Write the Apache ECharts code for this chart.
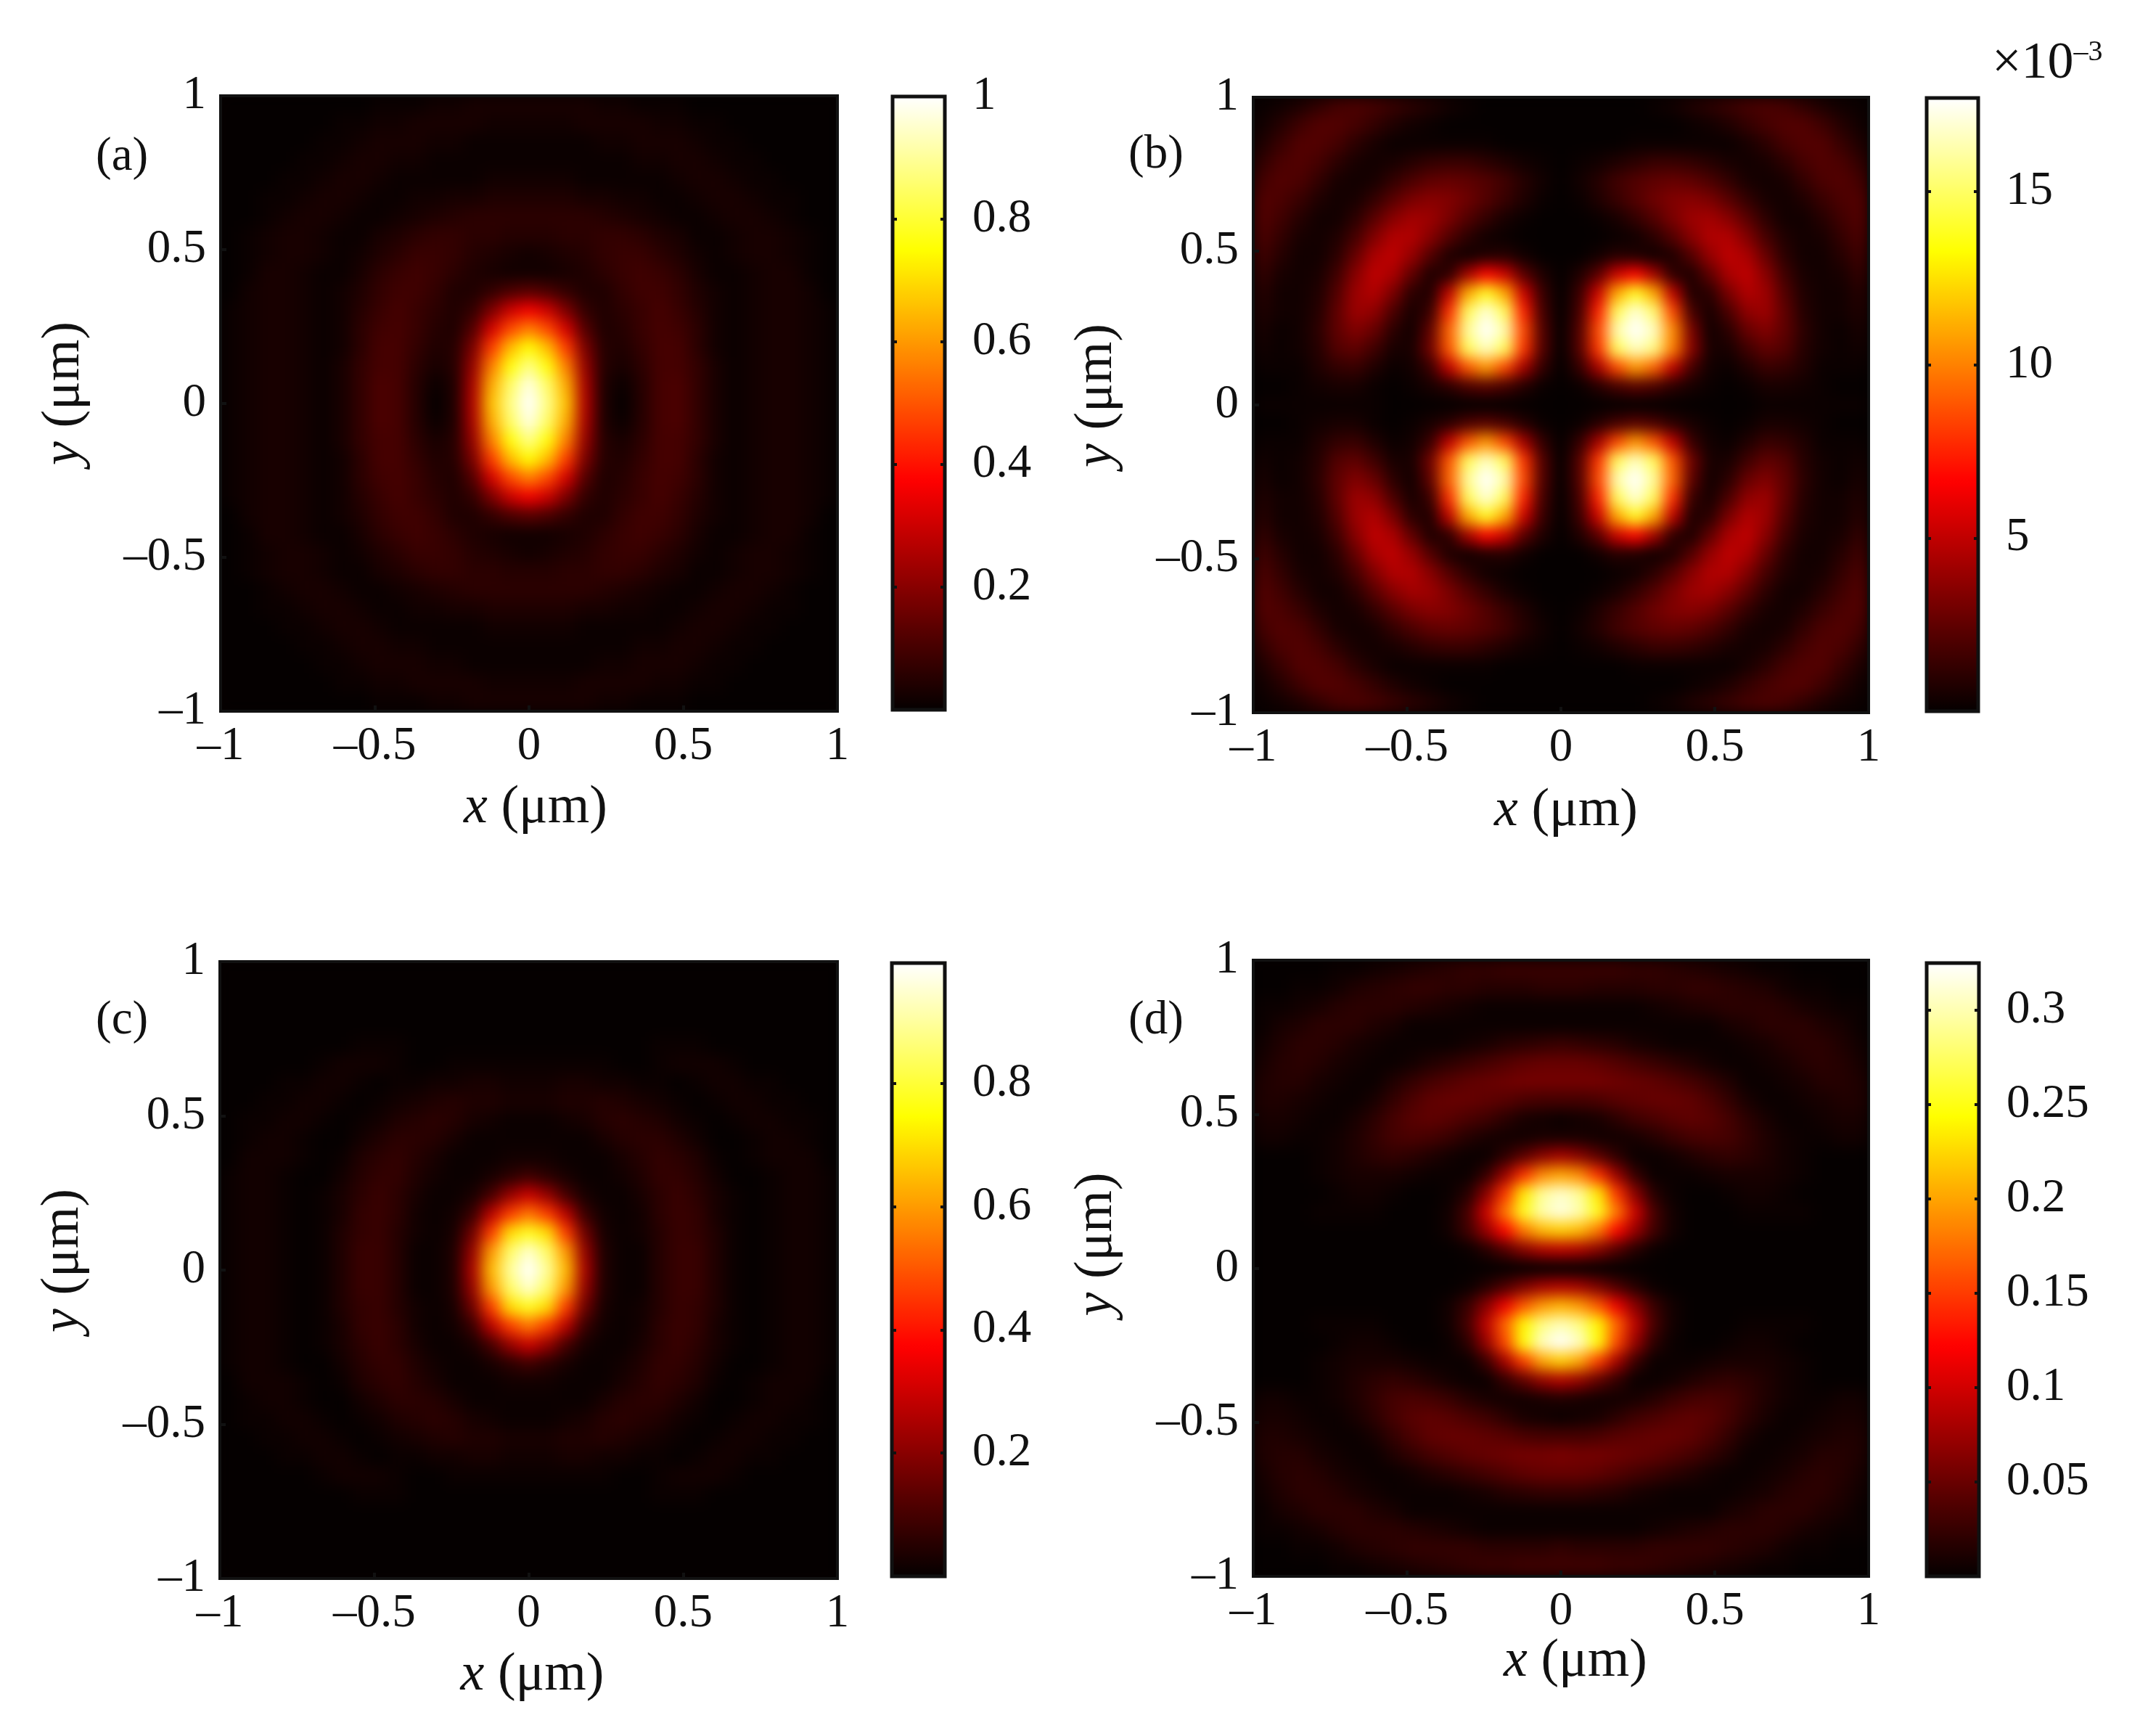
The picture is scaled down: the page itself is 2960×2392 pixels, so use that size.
<!DOCTYPE html>
<html>
<head>
<meta charset="utf-8">
<style>
	html, body { margin: 0; background: #fff; }
	#page { position: relative; width: 2960px; height: 2392px; overflow: hidden; }
	.heat { position: absolute; overflow: hidden; background: #050000; }
	.heat > div { width: 100%; height: 100%; filter: blur(10px); }
	#overlay { position: absolute; left: 0; top: 0; width: 2960px; height: 2392px; }
</style>
<script src="https://cdn.jsdelivr.net/npm/echarts@6/dist/echarts.min.js"></script>
</head>
<body>
<div id="page"><div id="overlay"></div></div>
<script>
// field rows run from y = +1 (top) to y = -1 (bottom), values are % of the colour bar top
const panelA = [
	[0,0,0,0,0,0,0,0,1,1,1,2,2,3,3,3,3,3,3,3,2,2,1,1,1,0,0,0,0,0,0,0,0],
	[0,0,0,0,0,0,1,1,2,2,3,3,3,3,2,2,2,2,2,3,3,3,3,2,2,1,1,0,0,0,0,0,0],
	[0,0,0,0,0,1,1,2,3,3,3,2,2,1,1,1,1,1,1,1,2,2,3,3,3,2,1,1,0,0,0,0,0],
	[0,0,0,0,1,1,2,3,3,2,2,1,1,1,1,1,1,1,1,1,1,1,2,2,3,3,2,1,1,0,0,0,0],
	[0,0,0,1,1,2,3,3,2,1,1,1,1,1,2,2,2,2,2,1,1,1,1,1,2,3,3,2,1,1,0,0,0],
	[0,0,1,1,2,3,3,2,1,1,2,2,3,3,4,4,4,4,4,3,3,2,2,1,1,2,3,3,2,1,1,0,0],
	[0,0,1,2,3,3,2,1,1,2,3,4,5,6,6,6,6,6,6,6,5,4,3,2,1,1,2,3,3,2,1,0,0],
	[0,1,2,3,3,2,1,1,3,4,6,7,7,6,6,5,5,5,6,6,7,7,6,4,3,1,1,2,3,3,2,1,0],
	[0,1,2,3,3,2,1,2,4,6,8,8,7,5,4,3,2,3,4,5,7,8,8,6,4,2,1,2,3,3,2,1,0],
	[0,1,3,3,2,1,1,3,6,8,9,8,6,4,3,2,2,2,3,4,6,8,9,8,6,3,1,1,2,3,3,1,0],
	[0,2,3,3,2,1,2,4,7,9,9,7,4,4,7,11,13,11,7,4,4,7,9,9,7,4,2,1,2,3,3,2,0],
	[1,2,3,3,2,1,2,5,8,10,8,6,4,7,18,30,36,30,18,7,4,6,8,10,8,5,2,1,2,3,3,2,1],
	[1,2,3,3,2,1,2,6,9,10,8,5,4,12,31,48,56,48,31,12,4,5,8,10,9,6,2,1,2,3,3,2,1],
	[1,2,3,3,2,1,2,6,10,10,7,4,5,18,46,65,75,65,46,18,5,4,7,10,10,6,2,1,2,3,3,2,1],
	[1,2,3,3,2,1,3,7,10,10,6,3,5,22,56,76,88,76,56,22,5,3,6,10,10,7,3,1,2,3,3,2,1],
	[1,2,3,3,2,1,3,7,11,10,5,1,4,25,63,85,97,85,63,25,4,1,5,10,11,7,3,1,2,3,3,2,1],
	[1,2,3,3,2,1,3,7,11,10,5,0,4,26,66,88,100,88,66,26,4,0,5,10,11,7,3,1,2,3,3,2,1],
	[1,2,3,3,2,1,3,7,11,10,5,1,4,25,63,85,97,85,63,25,4,1,5,10,11,7,3,1,2,3,3,2,1],
	[1,2,3,3,2,1,3,7,10,10,6,3,5,22,56,76,88,76,56,22,5,3,6,10,10,7,3,1,2,3,3,2,1],
	[1,2,3,3,2,1,2,6,10,10,7,4,5,18,46,65,75,65,46,18,5,4,7,10,10,6,2,1,2,3,3,2,1],
	[1,2,3,3,2,1,2,6,9,10,8,5,4,12,31,48,56,48,31,12,4,5,8,10,9,6,2,1,2,3,3,2,1],
	[1,2,3,3,2,1,2,5,8,10,8,6,4,7,18,30,36,30,18,7,4,6,8,10,8,5,2,1,2,3,3,2,1],
	[0,2,3,3,2,1,2,4,7,9,9,7,4,4,7,11,13,11,7,4,4,7,9,9,7,4,2,1,2,3,3,2,0],
	[0,1,3,3,2,1,1,3,6,8,9,8,6,4,3,2,2,2,3,4,6,8,9,8,6,3,1,1,2,3,3,1,0],
	[0,1,2,3,3,2,1,2,4,6,8,8,7,5,4,3,2,3,4,5,7,8,8,6,4,2,1,2,3,3,2,1,0],
	[0,1,2,3,3,2,1,1,3,4,6,7,7,6,6,5,5,5,6,6,7,7,6,4,3,1,1,2,3,3,2,1,0],
	[0,0,1,2,3,3,2,1,1,2,3,4,5,6,6,6,6,6,6,6,5,4,3,2,1,1,2,3,3,2,1,0,0],
	[0,0,1,1,2,3,3,2,1,1,2,2,3,3,4,4,4,4,4,3,3,2,2,1,1,2,3,3,2,1,1,0,0],
	[0,0,0,1,1,2,3,3,2,1,1,1,1,1,2,2,2,2,2,1,1,1,1,1,2,3,3,2,1,1,0,0,0],
	[0,0,0,0,1,1,2,3,3,2,2,1,1,1,1,1,1,1,1,1,1,1,2,2,3,3,2,1,1,0,0,0,0],
	[0,0,0,0,0,1,1,2,3,3,3,2,2,1,1,1,1,1,1,1,2,2,3,3,3,2,1,1,0,0,0,0,0],
	[0,0,0,0,0,0,1,1,2,2,3,3,3,3,2,2,2,2,2,3,3,3,3,2,2,1,1,0,0,0,0,0,0],
	[0,0,0,0,0,0,0,0,1,1,1,2,2,3,3,3,3,3,3,3,2,2,1,1,1,0,0,0,0,0,0,0,0],
];
const panelB = [
	[1,2,4,7,10,11,10,8,6,4,2,1,0,0,0,0,0,0,0,0,0,1,2,4,6,8,10,11,10,7,4,2,1],
	[2,5,9,12,12,10,7,4,2,1,0,0,0,0,0,0,0,0,0,0,0,0,0,1,2,4,7,10,12,12,9,5,2],
	[4,8,12,12,10,6,3,1,1,1,1,1,1,0,0,0,0,0,0,0,1,1,1,1,1,1,3,6,10,12,12,8,4],
	[7,11,12,10,6,3,2,3,5,7,8,8,6,4,2,1,0,1,2,4,6,8,8,7,5,3,2,3,6,10,12,11,7],
	[10,12,11,7,3,2,3,7,11,14,15,14,12,9,5,2,0,2,5,9,12,14,15,14,11,7,3,2,3,7,11,12,10],
	[12,11,8,4,2,3,7,13,18,20,19,16,12,8,4,1,0,1,4,8,12,16,19,20,18,13,7,3,2,4,8,11,12],
	[12,9,5,2,2,6,13,20,24,23,18,12,7,3,1,0,0,0,1,3,7,12,18,23,24,20,13,6,2,2,5,9,12],
	[11,7,3,2,4,10,19,26,26,20,12,6,2,1,0,0,0,0,0,1,2,6,12,20,26,26,19,10,4,2,3,7,11],
	[9,5,2,2,6,15,25,28,22,12,4,2,4,5,2,0,0,0,2,5,4,2,4,12,22,28,25,15,6,2,2,5,9],
	[7,3,2,3,9,20,28,25,14,4,6,24,38,30,13,4,0,4,13,30,38,24,6,4,14,25,28,20,9,3,2,3,7],
	[5,2,2,4,12,23,26,18,6,4,28,62,78,62,30,8,0,8,30,62,78,62,28,4,6,18,26,23,12,4,2,2,5],
	[4,2,2,5,14,23,21,11,3,8,44,84,96,84,42,10,0,10,42,84,96,86,48,10,3,11,21,23,14,5,2,2,4],
	[3,1,2,6,14,19,15,6,2,14,52,90,100,92,48,12,0,12,48,92,100,94,58,18,2,6,15,19,14,6,2,1,3],
	[2,1,2,5,12,14,9,3,3,16,50,84,94,84,45,12,0,12,45,84,94,88,56,20,3,3,9,14,12,5,2,1,2],
	[1,1,1,4,7,8,4,1,2,8,28,50,60,48,24,7,0,7,24,48,60,52,28,10,2,1,4,8,7,4,1,1,1],
	[0,0,1,2,3,3,1,0,1,3,6,11,13,10,5,1,0,1,5,10,13,11,6,3,1,0,1,3,3,2,1,0,0],
	[1,1,1,1,1,1,1,0,0,0,0,0,0,0,0,0,0,0,0,0,0,0,0,0,0,0,0,1,1,1,1,1,1],
	[0,0,1,2,3,3,1,0,1,3,6,11,13,10,5,1,0,1,5,10,13,11,6,3,1,0,1,3,3,2,1,0,0],
	[1,1,1,4,7,8,4,1,2,8,28,50,60,48,24,7,0,7,24,48,60,50,28,8,2,1,4,8,7,4,1,1,1],
	[2,1,2,5,12,14,9,3,3,16,50,84,94,84,45,12,0,12,45,84,94,84,50,16,3,3,9,14,12,5,2,1,2],
	[3,1,2,6,14,19,15,6,2,14,52,90,100,92,48,12,0,12,48,92,100,90,52,14,2,6,15,19,14,6,2,1,3],
	[4,2,2,5,14,23,21,11,3,8,44,84,96,84,42,10,0,10,42,84,96,84,44,8,3,11,21,23,14,5,2,2,4],
	[5,2,2,4,12,23,26,18,6,4,28,62,78,62,30,8,0,8,30,62,78,62,28,4,6,18,26,23,12,4,2,2,5],
	[7,3,2,3,9,20,28,25,14,4,6,24,38,30,13,4,0,4,13,30,38,24,6,4,14,25,28,20,9,3,2,3,7],
	[9,5,2,2,6,15,25,28,22,12,4,2,4,5,2,0,0,0,2,5,4,2,4,12,22,28,25,15,6,2,2,5,9],
	[11,7,3,2,4,10,19,26,26,20,12,6,2,1,0,0,0,0,0,1,2,6,12,20,26,26,19,10,4,2,3,7,11],
	[12,9,5,2,2,6,13,20,24,23,18,12,7,3,1,0,0,0,1,3,7,12,18,23,24,20,13,6,2,2,5,9,12],
	[12,11,8,4,2,3,7,13,18,20,19,16,12,8,4,1,0,1,4,8,12,16,19,20,18,13,7,3,2,4,8,11,12],
	[10,12,11,7,3,2,3,7,11,14,15,14,12,9,5,2,0,2,5,9,12,14,15,14,11,7,3,2,3,7,11,12,10],
	[7,11,12,10,6,3,2,3,5,7,8,8,6,4,2,1,0,1,2,4,6,8,8,7,5,3,2,3,6,10,12,11,7],
	[4,8,12,12,10,6,3,1,1,1,1,1,1,0,0,0,0,0,0,0,1,1,1,1,1,1,3,6,10,12,12,8,4],
	[2,5,9,12,12,10,7,4,2,1,0,0,0,0,0,0,0,0,0,0,0,0,0,1,2,4,7,10,12,12,9,5,2],
	[1,2,4,7,10,11,10,8,6,4,2,1,0,0,0,0,0,0,0,0,0,1,2,4,6,8,10,11,10,7,4,2,1],
];
const panelC = [
	[0,0,0,0,0,0,0,0,0,0,0,0,0,0,0,0,0,0,0,0,0,0,0,0,0,0,0,0,0,0,0,0,0],
	[0,0,0,0,0,0,0,0,0,0,0,0,0,0,0,0,0,0,0,0,0,0,0,0,0,0,0,0,0,0,0,0,0],
	[0,0,0,0,0,0,0,0,0,0,0,0,0,0,0,0,0,0,0,0,0,0,0,0,0,0,0,0,0,0,0,0,0],
	[0,0,0,0,0,0,0,0,0,0,0,0,0,0,0,0,0,0,0,0,0,0,0,0,0,0,0,0,0,0,0,0,0],
	[0,0,0,0,0,0,0,1,1,1,0,0,0,0,0,0,0,0,0,0,0,0,0,1,1,1,0,0,0,0,0,0,0],
	[0,0,0,0,0,1,2,2,2,1,0,0,1,1,1,1,1,1,1,1,1,0,0,1,2,2,2,1,0,0,0,0,0],
	[0,0,0,1,1,2,2,1,0,1,1,2,2,3,3,2,2,2,3,3,2,2,1,1,0,1,2,2,1,1,0,0,0],
	[0,0,1,1,2,2,1,0,1,2,3,4,5,4,4,3,3,3,4,4,5,4,3,2,1,0,1,2,2,1,1,0,0],
	[0,1,1,2,2,1,0,1,2,4,5,6,5,3,2,1,1,1,2,3,5,6,5,4,2,1,0,1,2,2,1,1,0],
	[0,1,2,2,1,0,0,2,4,6,6,5,3,1,1,1,1,1,1,1,3,5,6,6,4,2,0,0,1,2,2,1,0],
	[0,2,2,2,1,0,1,4,6,7,5,3,1,1,1,2,2,2,1,1,1,3,5,7,6,4,1,0,1,2,2,2,0],
	[1,2,2,1,0,0,2,5,7,7,4,2,1,1,3,6,9,6,3,1,1,2,4,7,7,5,2,0,0,1,2,2,1],
	[1,2,2,1,0,1,3,6,8,6,3,1,1,3,10,22,30,22,10,3,1,1,3,6,8,6,3,1,0,1,2,2,1],
	[1,2,2,1,0,1,3,7,8,6,2,1,2,8,27,46,55,46,27,8,2,1,2,6,8,7,3,1,0,1,2,2,1],
	[1,2,2,1,0,1,4,7,8,5,2,1,3,16,46,70,78,70,46,16,3,1,2,5,8,7,4,1,0,1,2,2,1],
	[1,2,2,1,0,1,4,8,8,5,1,1,4,22,60,85,95,85,60,22,4,1,1,5,8,8,4,1,0,1,2,2,1],
	[1,2,2,1,0,1,4,8,8,5,1,1,4,25,65,90,100,90,65,25,4,1,1,5,8,8,4,1,0,1,2,2,1],
	[1,2,2,1,0,1,4,8,8,5,1,1,4,22,60,85,95,85,60,22,4,1,1,5,8,8,4,1,0,1,2,2,1],
	[1,2,2,1,0,1,4,7,8,5,2,1,3,16,46,70,78,70,46,16,3,1,2,5,8,7,4,1,0,1,2,2,1],
	[1,2,2,1,0,1,3,7,8,6,2,1,2,8,27,46,55,46,27,8,2,1,2,6,8,7,3,1,0,1,2,2,1],
	[1,2,2,1,0,1,3,6,8,6,3,1,1,3,10,22,30,22,10,3,1,1,3,6,8,6,3,1,0,1,2,2,1],
	[1,2,2,1,0,0,2,5,7,7,4,2,1,1,3,6,9,6,3,1,1,2,4,7,7,5,2,0,0,1,2,2,1],
	[0,2,2,2,1,0,1,4,6,7,5,3,1,1,1,2,2,2,1,1,1,3,5,7,6,4,1,0,1,2,2,2,0],
	[0,1,2,2,1,0,0,2,4,6,6,5,3,1,1,1,1,1,1,1,3,5,6,6,4,2,0,0,1,2,2,1,0],
	[0,1,1,2,2,1,0,1,2,4,5,6,5,3,2,1,1,1,2,3,5,6,5,4,2,1,0,1,2,2,1,1,0],
	[0,0,1,1,2,2,1,0,1,2,3,4,5,4,4,3,3,3,4,4,5,4,3,2,1,0,1,2,2,1,1,0,0],
	[0,0,0,1,1,2,2,1,0,1,1,2,2,3,3,2,2,2,3,3,2,2,1,1,0,1,2,2,1,1,0,0,0],
	[0,0,0,0,0,1,2,2,2,1,0,0,1,1,1,1,1,1,1,1,1,0,0,1,2,2,2,1,0,0,0,0,0],
	[0,0,0,0,0,0,0,1,1,1,0,0,0,0,0,0,0,0,0,0,0,0,0,1,1,1,0,0,0,0,0,0,0],
	[0,0,0,0,0,0,0,0,0,0,0,0,0,0,0,0,0,0,0,0,0,0,0,0,0,0,0,0,0,0,0,0,0],
	[0,0,0,0,0,0,0,0,0,0,0,0,0,0,0,0,0,0,0,0,0,0,0,0,0,0,0,0,0,0,0,0,0],
	[0,0,0,0,0,0,0,0,0,0,0,0,0,0,0,0,0,0,0,0,0,0,0,0,0,0,0,0,0,0,0,0,0],
	[0,0,0,0,0,0,0,0,0,0,0,0,0,0,0,0,0,0,0,0,0,0,0,0,0,0,0,0,0,0,0,0,0],
];
const panelD = [
	[0,0,0,0,1,1,2,3,4,5,6,7,7,8,8,8,8,8,8,8,7,7,6,5,4,3,2,1,1,0,0,0,0],
	[0,0,1,1,2,4,5,6,7,7,6,6,5,5,5,6,6,6,5,5,5,6,6,7,7,6,5,4,2,1,1,0,0],
	[1,1,2,3,5,6,6,6,5,4,3,2,1,1,1,1,1,1,1,1,1,2,3,4,5,6,6,6,5,3,2,1,1],
	[1,3,4,6,6,6,4,3,1,1,1,1,1,1,1,1,1,1,1,1,1,1,1,1,1,3,4,6,6,6,4,3,1],
	[2,4,6,6,5,3,2,1,1,1,1,2,3,5,6,7,8,7,6,5,3,2,1,1,1,1,2,3,5,6,6,4,2],
	[3,5,6,5,3,2,1,1,2,4,6,8,10,12,14,15,15,15,14,12,10,8,6,4,2,1,1,2,3,5,6,5,3],
	[4,5,5,3,2,1,1,4,7,10,12,14,15,16,17,17,17,17,17,16,15,14,12,10,7,4,1,1,2,3,5,5,4],
	[4,4,3,2,1,1,3,7,11,14,15,15,14,13,11,10,10,10,11,13,14,15,15,14,11,7,3,1,1,2,3,4,4],
	[3,3,2,1,1,3,6,10,13,14,13,11,9,6,3,2,1,2,3,6,9,11,13,14,13,10,6,3,1,1,2,3,3],
	[2,2,1,1,2,4,7,10,11,10,8,5,3,2,2,3,3,3,2,2,3,5,8,10,11,10,7,4,2,1,1,2,2],
	[0,0,0,1,2,4,6,7,6,4,2,1,1,6,13,20,24,20,13,6,1,1,2,4,6,7,6,4,2,1,0,0,0],
	[0,0,0,1,2,3,3,3,2,1,1,1,7,22,44,58,62,58,44,22,7,1,1,1,2,3,3,3,2,1,0,0,0],
	[0,0,0,0,1,2,2,1,0,0,1,5,20,45,72,90,95,90,72,45,20,5,1,0,0,1,2,2,1,0,0,0,0],
	[0,0,0,1,1,1,1,0,0,0,2,10,30,55,78,92,97,92,78,55,30,10,2,0,0,0,1,1,1,1,0,0,0],
	[0,0,0,0,0,0,0,0,0,0,2,9,22,38,55,65,68,65,55,38,22,9,2,0,0,0,0,0,0,0,0,0,0],
	[0,0,0,0,0,0,0,0,0,0,0,1,5,12,20,26,28,26,20,12,5,1,0,0,0,0,0,0,0,0,0,0,0],
	[0,0,0,0,0,0,0,0,0,0,0,0,0,0,0,0,0,0,0,0,0,0,0,0,0,0,0,0,0,0,0,0,0],
	[0,0,0,0,0,0,0,0,0,0,0,1,5,11,18,24,26,24,18,11,5,1,0,0,0,0,0,0,0,0,0,0,0],
	[0,0,0,0,0,0,0,0,0,0,2,8,20,35,50,60,64,60,50,35,20,8,2,0,0,0,0,0,0,0,0,0,0],
	[0,0,0,1,1,1,1,0,0,0,2,10,28,52,74,88,93,88,74,52,28,10,2,0,0,0,1,1,1,1,0,0,0],
	[0,0,0,0,1,2,2,1,0,0,1,6,22,48,76,94,100,94,76,48,22,6,1,0,0,1,2,2,1,0,0,0,0],
	[0,0,0,1,2,3,3,3,2,1,1,1,8,24,46,62,68,62,46,24,8,1,1,1,2,3,3,3,2,1,0,0,0],
	[0,0,0,1,2,4,6,7,6,4,2,1,1,7,14,22,26,22,14,7,1,1,2,4,6,7,6,4,2,1,0,0,0],
	[2,2,1,1,2,4,7,10,11,10,8,5,3,2,2,3,4,3,2,2,3,5,8,10,11,10,7,4,2,1,1,2,2],
	[3,3,2,1,1,3,6,10,13,14,13,11,9,6,3,2,1,2,3,6,9,11,13,14,13,10,6,3,1,1,2,3,3],
	[4,4,3,2,1,1,3,7,11,14,15,15,14,13,11,10,10,10,11,13,14,15,15,14,11,7,3,1,1,2,3,4,4],
	[4,5,5,3,2,1,1,4,7,10,12,14,15,16,17,17,18,17,17,16,15,14,12,10,7,4,1,1,2,3,5,5,4],
	[3,5,6,5,3,2,1,1,2,4,6,8,10,12,14,15,15,15,14,12,10,8,6,4,2,1,1,2,3,5,6,5,3],
	[2,4,6,6,5,3,2,1,1,1,1,2,3,5,6,7,7,7,6,5,3,2,1,1,1,1,2,3,5,6,6,4,2],
	[1,3,4,6,6,6,4,3,1,1,1,1,1,1,1,1,1,1,1,1,1,1,1,1,1,3,4,6,6,6,4,3,1],
	[1,1,2,3,5,6,6,6,5,4,3,2,1,1,1,1,1,1,1,1,1,2,3,4,5,6,6,6,5,3,2,1,1],
	[0,0,1,1,2,4,5,6,7,7,7,7,6,6,6,6,7,6,6,6,6,7,7,7,7,6,5,4,2,1,1,0,0],
	[0,0,0,0,1,1,2,3,4,5,6,7,8,8,9,9,9,9,9,8,8,7,6,5,4,3,2,1,1,0,0,0,0],
];

const cbarMaxes = [1, 17.7, 0.995, 0.325];
const cbarTicksA = [0.2, 0.4, 0.6, 0.8, 1];
const cbarTicksB = [5, 10, 15];
const cbarTicksC = [0.2, 0.4, 0.6, 0.8];
const cbarTicksD = [0.05, 0.1, 0.15, 0.2, 0.25, 0.3];
const panelLetters = ['(a)', '(b)', '(c)', '(d)'];
const hotColors = ['#050000', '#550000', '#aa0000', '#ff0000', '#ff5500', '#ffaa00', '#ffff00', '#ffff80', '#ffffff'];

const fields = [panelA, panelB, panelC, panelD],
	cbarTicks = [cbarTicksA, cbarTicksB, cbarTicksC, cbarTicksD],
	font = '"Liberation Serif", serif',
	ink = '#111',
	layout = [
		{ plot: [304, 132, 850, 848], bar: [1230, 133, 72, 845], letter: [132, 222], xGap: 97, xShift: 9, yShift: 14 },
		{ plot: [1727, 134, 848, 848], bar: [2655, 135, 71, 845], letter: [1555, 219], xGap: 99, xShift: 7, yShift: 13 },
		{ plot: [303, 1325, 851, 850], bar: [1229, 1327, 73, 845], letter: [132, 1412], xGap: 97, xShift: 5, yShift: 13 },
		{ plot: [1727, 1323, 848, 849], bar: [2655, 1327, 72, 845], letter: [1555, 1412], xGap: 81, xShift: 20, yShift: 33 },
	];

const page = document.getElementById('page');

fields.forEach((rows, p) => {
	const [left, top, width, height] = layout[p].plot,
		box = document.createElement('div'),
		inner = document.createElement('div');
	box.className = 'heat';
	box.style.cssText = `left:${left}px;top:${top}px;width:${width}px;height:${height}px`;
	box.appendChild(inner);
	page.insertBefore(box, page.firstChild);

	const data = [];
	rows.forEach((row, j) => row.forEach((v, i) => data.push([i, j, (v * cbarMaxes[p]) / 100])));

	echarts.init(inner, null, { width, height }).setOption({
		animation: false,
		grid: { left: 0, right: 0, top: 0, bottom: 0 },
		xAxis: { type: 'category', show: false, data: rows[0].map((_, i) => i) },
		yAxis: { type: 'category', show: false, inverse: true, data: rows.map((_, j) => j) },
		visualMap: { show: false, min: 0, max: cbarMaxes[p], inRange: { color: hotColors } },
		series: [{ type: 'heatmap', data, silent: true, progressive: 0 }],
	});
});

const minusLabel = (v) => String(v).replace('-', '–'),
	grid = [],
	xAxis = [],
	yAxis = [],
	visualMap = [],
	graphic = [];

layout.forEach((l, p) => {
	const [left, top, width, height] = l.plot,
		[bLeft, bTop, bWidth, bHeight] = l.bar,
		mainIndex = grid.length,
		barIndex = mainIndex + 1,
		tickStyle = { color: ink, width: 4 },
		labelStyle = { fontFamily: font, fontSize: 65, color: ink },
		noLine = { show: false, onZero: false },
		nameRich = { i: { fontFamily: font, fontSize: 74, fontStyle: 'italic', color: ink } };

	grid.push(
		{ left, top, width, height, show: true, z: 10, borderColor: ink, borderWidth: 4, backgroundColor: 'transparent' },
		{ left: bLeft, top: bTop, width: bWidth, height: bHeight, show: true, z: 10, borderColor: ink, borderWidth: 5, backgroundColor: 'transparent' },
	);

	xAxis.push(
		{
			type: 'value', gridIndex: mainIndex, min: -1, max: 1, interval: 0.5, z: 11,
			axisLine: noLine, splitLine: { show: false },
			axisTick: { inside: true, length: 8, lineStyle: tickStyle },
			axisLabel: { ...labelStyle, margin: 16, formatter: minusLabel, hideOverlap: false },
			name: '{i|x} (μm)', nameLocation: 'middle', nameGap: l.xGap, nameMoveOverlap: false,
			nameTextStyle: {
				fontFamily: font, fontSize: 74, color: ink, padding: [0, 0, 0, 2 * l.xShift], rich: nameRich,
			},
		},
		{ type: 'value', gridIndex: barIndex, min: 0, max: 1, show: false },
	);

	yAxis.push(
		{
			type: 'value', gridIndex: mainIndex, min: -1, max: 1, interval: 0.5, z: 11,
			axisLine: noLine, splitLine: { show: false },
			axisTick: { inside: true, length: 8, lineStyle: tickStyle },
			axisLabel: { ...labelStyle, margin: 20, formatter: minusLabel, hideOverlap: false },
			name: '{i|y} (μm)', nameLocation: 'middle', nameGap: 178, nameMoveOverlap: false,
			nameTextStyle: {
				fontFamily: font, fontSize: 74, color: ink, padding: [0, 0, 0, 2 * l.yShift], rich: nameRich,
			},
		},
		{
			type: 'value', gridIndex: barIndex, position: 'right', min: 0, max: cbarMaxes[p], z: 11,
			axisLine: noLine, splitLine: { show: false },
			axisTick: { inside: true, length: 6, customValues: cbarTicks[p], lineStyle: tickStyle },
			axisLabel: { ...labelStyle, margin: 38, padding: [6, 0, 0, 0], customValues: cbarTicks[p], hideOverlap: false },
		},
		{
			type: 'value', gridIndex: barIndex, position: 'left', min: 0, max: cbarMaxes[p], z: 11,
			axisLine: noLine, splitLine: { show: false },
			axisTick: { inside: true, length: 6, customValues: cbarTicks[p], lineStyle: tickStyle },
			axisLabel: { show: false },
		},
	);

	visualMap.push({
		type: 'continuous', min: 0, max: cbarMaxes[p], left: bLeft, top: bTop,
		itemWidth: bWidth, itemHeight: bHeight, padding: 0, calculable: false,
		hoverLink: false, text: null, seriesIndex: [], inRange: { color: hotColors },
	});

	graphic.push({
		type: 'text', left: l.letter[0], top: l.letter[1] - 38,
		style: { text: panelLetters[p], font: `65px ${font}`, fill: ink },
	});
});

graphic.push({
	type: 'text', left: 2745, top: 52,
	style: {
		text: '{a|×10}{s|–3}',
		rich: {
			a: { font: `72px ${font}`, fill: ink, verticalAlign: 'bottom' },
			s: { font: `40px ${font}`, fill: ink, verticalAlign: 'top' },
		},
	},
});

echarts.init(document.getElementById('overlay'), null, { width: 2960, height: 2392 }).setOption({
	animation: false,
	grid,
	xAxis,
	yAxis,
	visualMap,
	graphic,
});
</script>
</body>
</html>
